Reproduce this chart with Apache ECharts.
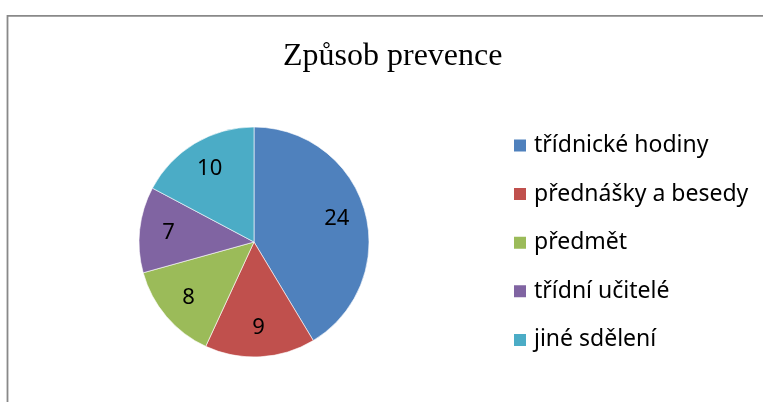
<!DOCTYPE html>
<html>
<head>
<meta charset="utf-8">
<script src="https://cdn.jsdelivr.net/npm/echarts@6/dist/echarts.min.js"></script>
<style>html,body{margin:0;padding:0;background:#fff;overflow:hidden}#c{width:763px;height:402px}</style>
</head>
<body>
<div id="c"></div>
<script>
const titleText = 'Způsob prevence';
const categories = ['třídnické hodiny', 'přednášky a besedy', 'předmět', 'třídní učitelé', 'jiné sdělení'];
const values = [24, 9, 8, 7, 10];
const colors = ['#4F81BD', '#C0504D', '#9BBB59', '#8064A2', '#4BACC6'];

const data = categories.map((n, i) => ({ name: n, value: values[i], itemStyle: { color: colors[i] } }));
const chart = echarts.init(document.getElementById('c'), null, { renderer: 'canvas' });
chart.setOption({
  animation: false,
  backgroundColor: '#fff',
  graphic: [{
    type: 'polyline', silent: true, z: 0,
    shape: { points: [[7.5, 402], [7.5, 15.8], [763, 15.8]] },
    style: { fill: 'none', stroke: '#898989', lineWidth: 1.8 }
  }],
  title: {
    text: titleText, left: 283, top: 41, padding: 0,
    textStyle: { fontFamily: 'Liberation Serif', fontSize: 32, fontWeight: 'normal', color: '#000' }
  },
  legend: {
    orient: 'vertical', left: 512, top: 134, padding: 0, itemWidth: 14, itemHeight: 14, itemGap: 25.6,
    icon: 'rect', selectedMode: false,
    textStyle: { fontFamily: 'Noto Sans', fontSize: 23, color: '#000', padding: [0, 0, 0, 2] },
    data: categories
  },
  series: [{
    type: 'pie', center: [254, 242], radius: [0, 115], startAngle: 90, clockwise: true,
    silent: true, label: { show: false }, labelLine: { show: false },
    itemStyle: { borderColor: '#fff', borderWidth: 0.6 },
    data: data
  }, {
    type: 'pie', center: [254, 242], radius: [54, 112], startAngle: 90, clockwise: true,
    silent: true, legendHoverLink: false,
    itemStyle: { color: 'rgba(0,0,0,0)' },
    label: { show: true, position: 'inside', formatter: '{c}', fontFamily: 'Noto Sans', fontSize: 22, color: '#000' },
    labelLine: { show: false },
    data: categories.map((n, i) => ({ name: n + ' ', value: values[i] }))
  }]
});
</script>
</body>
</html>
